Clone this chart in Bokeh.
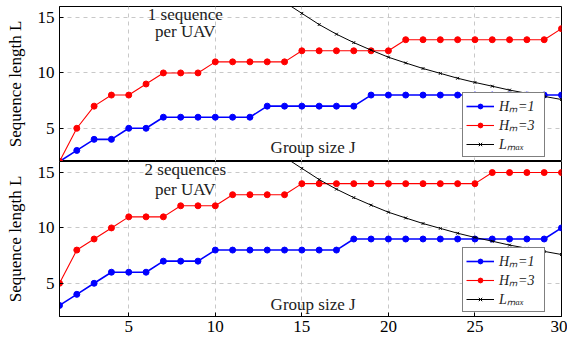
from bokeh.plotting import figure
from bokeh.layouts import column
from bokeh.models import Range1d, Label, FixedTicker
from bokeh.embed import file_html
from bokeh.resources import INLINE

J = list(range(1, 31))

# Panel 1: 1 sequence per UAV
top_h1 = [2, 3, 4, 4, 5, 5, 6, 6, 6, 6, 6, 6, 7, 7, 7, 7, 7, 7, 8, 8, 8, 8, 8, 8, 8, 8, 8, 8, 8, 8]
top_h3 = [2, 5, 7, 8, 8, 9, 10, 10, 10, 11, 11, 11, 11, 11, 12, 12, 12, 12, 12, 12, 13, 13, 13, 13, 13, 13, 13, 13, 13, 14]

# Panel 2: 2 sequences per UAV
bot_h1 = [3, 4, 5, 6, 6, 6, 7, 7, 7, 8, 8, 8, 8, 8, 8, 8, 8, 9, 9, 9, 9, 9, 9, 9, 9, 9, 9, 9, 9, 10]
bot_h3 = [5, 8, 9, 10, 11, 11, 11, 12, 12, 12, 13, 13, 13, 13, 14, 14, 14, 14, 14, 14, 14, 14, 14, 14, 14, 15, 15, 15, 15, 15]

# L_max curve (same in both panels)
Jmax = list(range(14, 31))
Lmax = [16.4, 15.38, 14.37, 13.5, 12.74, 12.06, 11.42, 10.9, 10.4, 9.96, 9.52, 9.14, 8.8, 8.45, 8.16, 7.88, 7.6]

panel_titles = [["1 sequence", "per UAV"], ["2 sequences", "per UAV"]]
x_ticks = [5, 10, 15, 20, 25, 30]
y_ticks = [5, 10, 15]

SERIF = "Liberation Serif"


def make_panel(h1, h3, titles, is_top):
    p = figure(frame_width=502, frame_height=155,
               x_range=Range1d(1, 30), y_range=Range1d(2, 16),
               output_backend="svg", toolbar_location=None,
               min_border_left=59, min_border_right=6,
               min_border_top=6 if is_top else 0,
               min_border_bottom=0 if is_top else 22)
    p.outline_line_color = "black"
    p.outline_line_width = 1
    p.background_fill_color = "white"

    p.xaxis.ticker = FixedTicker(ticks=x_ticks)
    p.yaxis.ticker = FixedTicker(ticks=y_ticks)
    for ax in (p.xaxis[0], p.yaxis[0]):
        ax.major_tick_in = 4
        ax.major_tick_out = 0
        ax.minor_tick_line_color = None
        ax.axis_line_color = "black"
        ax.major_label_text_font = SERIF
        ax.major_label_text_font_size = "17px"
        ax.major_label_text_color = "black"
    p.yaxis.axis_label = "Sequence length L"
    p.yaxis.axis_label_text_font = SERIF
    p.yaxis.axis_label_text_font_size = "17px"
    p.yaxis.axis_label_text_font_style = "normal"
    p.yaxis.axis_label_text_color = "black"
    p.yaxis.axis_label_standoff = 10
    p.yaxis.major_label_standoff = 5
    p.xaxis.major_label_standoff = 4
    if is_top:
        p.xaxis.visible = False

    for g in (p.xgrid[0], p.ygrid[0]):
        g.grid_line_color = "#c8c8c8"
        g.grid_line_dash = "4 4"
        g.grid_line_width = 1

    p.line(J, h1, line_color="#0000ff", line_width=1.6, legend_label="Hₘ=1")
    p.scatter(J, h1, marker="circle", size=6, fill_color="#0000ff", line_color="#0000ff", legend_label="Hₘ=1")
    p.line(J, h3, line_color="#ff0000", line_width=1.1, legend_label="Hₘ=3")
    p.scatter(J, h3, marker="circle", size=6, fill_color="#ff0000", line_color="#ff0000", legend_label="Hₘ=3")
    p.line(Jmax, Lmax, line_color="black", line_width=1, legend_label="Lₘₐₓ")
    p.scatter(Jmax, Lmax, marker="x", size=4, line_color="black", line_width=1, legend_label="Lₘₐₓ")

    ty = [15.28, 13.74] if is_top else [15.27, 13.47]
    for t, yy in zip(titles, ty):
        p.add_layout(Label(x=8.27, y=yy, text=t, text_align="center", text_baseline="middle",
                           text_font=SERIF, text_font_size="17px", text_color="#222222"))
    p.add_layout(Label(x=15.65, y=3.26 if is_top else 3.1, text="Group size J", text_align="center",
                       text_baseline="middle", text_font=SERIF, text_font_size="17px", text_color="#222222"))

    lg = p.legend[0]
    lg.location = (403, 4)
    lg.border_line_color = "black"
    lg.border_line_width = 1
    lg.background_fill_color = "white"
    lg.background_fill_alpha = 1
    lg.label_text_font = SERIF
    lg.label_text_font_size = "14px"
    lg.label_text_font_style = "italic"
    lg.label_text_color = "#222222"
    lg.glyph_width = 28
    lg.glyph_height = 12
    lg.label_height = 12
    lg.label_width = 42
    lg.label_standoff = 5
    lg.spacing = -5
    lg.padding = 3
    lg.margin = 0
    return p


p1 = make_panel(top_h1, top_h3, panel_titles[0], True)
p2 = make_panel(bot_h1, bot_h3, panel_titles[1], False)
p2.x_range = p1.x_range

layout = column(p1, p2, spacing=0)
open("out.html", "w").write(file_html(layout, INLINE))
